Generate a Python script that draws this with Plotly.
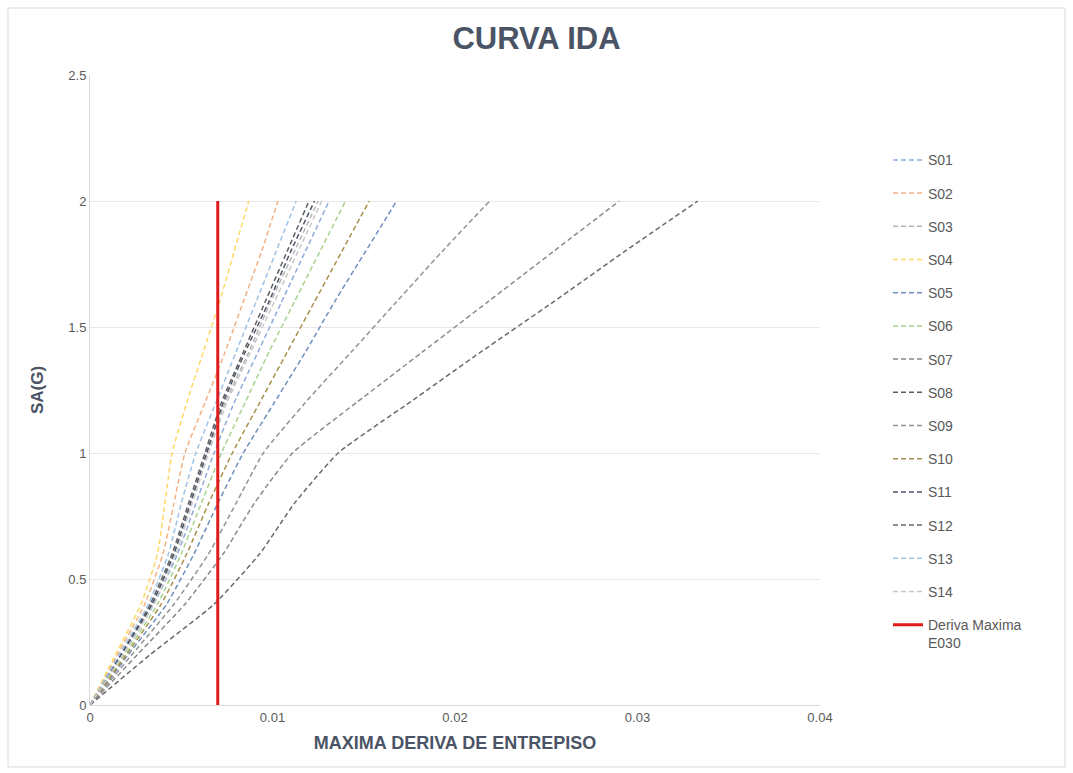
import plotly.graph_objects as go

# Spectral acceleration levels of the incremental dynamic analysis (g)
sa_levels = [0, 0.2, 0.4, 0.6, 0.8, 1.0, 1.2, 1.4, 1.6, 1.8, 2.0]

# Maximum inter-storey drift reached by each record at every SA level
s01 = [0, 0.0018, 0.0035, 0.0048, 0.0058, 0.0068, 0.0079, 0.0092, 0.0105, 0.0118, 0.0131]
s02 = [0, 0.0015, 0.0030, 0.0040, 0.0046, 0.0052, 0.0063, 0.0074, 0.0084, 0.0094, 0.0103]
s03 = [0, 0.0017, 0.0034, 0.0046, 0.0055, 0.0064, 0.0074, 0.0087, 0.0099, 0.0112, 0.0125]
s04 = [0, 0.0014, 0.0028, 0.0037, 0.0041, 0.0045, 0.0053, 0.0062, 0.0071, 0.0079, 0.0087]
s05 = [0, 0.0021, 0.0042, 0.0057, 0.0070, 0.0084, 0.0101, 0.0118, 0.0134, 0.0151, 0.0168]
s06 = [0, 0.0019, 0.0037, 0.0050, 0.0061, 0.0072, 0.0085, 0.0098, 0.0112, 0.0126, 0.0140]
s07 = [0, 0.0026, 0.0052, 0.0073, 0.0090, 0.0111, 0.0146, 0.0182, 0.0218, 0.0254, 0.0290]
s08 = [0, 0.0017, 0.0033, 0.0045, 0.0054, 0.0063, 0.0072, 0.0084, 0.0096, 0.0108, 0.0120]
s09 = [0, 0.0023, 0.0046, 0.0065, 0.0080, 0.0095, 0.0118, 0.0143, 0.0168, 0.0193, 0.0219]
s10 = [0, 0.0020, 0.0039, 0.0053, 0.0065, 0.0078, 0.0093, 0.0108, 0.0123, 0.0138, 0.0153]
s11 = [0, 0.0017, 0.0034, 0.0046, 0.0055, 0.0064, 0.0073, 0.0085, 0.0098, 0.0110, 0.0123]
s12 = [0, 0.0033, 0.0068, 0.0093, 0.0112, 0.0136, 0.0175, 0.0214, 0.0254, 0.0293, 0.0333]
s13 = [0, 0.0016, 0.0032, 0.0043, 0.0050, 0.0058, 0.0069, 0.0080, 0.0091, 0.0102, 0.0113]
s14 = [0, 0.0018, 0.0035, 0.0047, 0.0056, 0.0065, 0.0075, 0.0088, 0.0101, 0.0114, 0.0127]

series_names = ["S01", "S02", "S03", "S04", "S05", "S06", "S07",
                "S08", "S09", "S10", "S11", "S12", "S13", "S14"]
series_values = [s01, s02, s03, s04, s05, s06, s07,
                 s08, s09, s10, s11, s12, s13, s14]
series_colors = ["#8FAADC", "#F4B183", "#B4B4B4", "#FFD966", "#6F8FBF", "#A9D18E", "#8A8A8A",
                 "#5E5E5E", "#939393", "#A89048", "#4A5668", "#6A6A6A", "#9DC3E6", "#C8C8C8"]

# Code drift limit (E.030)
limit_label = "Deriva Maxima<br>E030"
limit_drift = [0.007, 0.007]
limit_sa = [0, 2]

fig = go.Figure()

for name, values, color in zip(series_names, series_values, series_colors):
    fig.add_trace(go.Scatter(
        x=values, y=sa_levels, name=name, mode="lines",
        legendgroup=name,
        line=dict(color=color, width=1.5, dash="5px,3px", shape="spline", smoothing=0.5),
    ))

fig.add_trace(go.Scatter(
    x=limit_drift, y=limit_sa, name=limit_label, mode="lines",
    legendgroup="limit",
    line=dict(color="#E01B1B", width=3),
))

grey_text = "#595959"
fig.update_layout(
    width=1073, height=773,
    margin=dict(l=90, r=253, t=75, b=68),
    paper_bgcolor="white", plot_bgcolor="white",
    font=dict(family="Liberation Sans, Arial, sans-serif", color=grey_text, size=13),
    title=dict(
        text="<b>CURVA IDA</b>", x=0.5, xref="container", xanchor="center",
        y=0.951, yref="container", yanchor="middle",
        font=dict(size=31, color="#4A5465"),
    ),
    xaxis=dict(
        range=[0, 0.04], dtick=0.01, tick0=0,
        showgrid=False, zeroline=False,
        showline=True, linecolor="#D9D9D9", linewidth=1,
        ticks="", tickfont=dict(size=13, color=grey_text),
        title=dict(text="<b>MAXIMA DERIVA DE ENTREPISO</b>", standoff=12,
                   font=dict(size=18, color="#4A5465")),
    ),
    yaxis=dict(
        range=[0, 2.5], dtick=0.5, tick0=0,
        showgrid=True, gridcolor="#E8E8E8", gridwidth=1,
        zeroline=False,
        showline=True, linecolor="#D9D9D9", linewidth=1,
        ticks="", ticklen=0, tickfont=dict(size=13, color=grey_text),
        title=dict(text="<b>SA(G)</b>", standoff=20,
                   font=dict(size=17, color="#4A5465")),
    ),
    legend=dict(
        x=(893 - 95) / 730, xanchor="left", y=0.89, yanchor="top",
        font=dict(size=14, color=grey_text),
        tracegroupgap=12, valign="top",
        bgcolor="rgba(0,0,0,0)",
    ),
    showlegend=True,
    shapes=[dict(
        type="rect", xref="paper", yref="paper",
        x0=(8 - 90) / 730, x1=(1065 - 90) / 730,
        y0=(705 - 767) / 630, y1=(705 - 8) / 630,
        line=dict(color="#D9D9D9", width=1), fillcolor="rgba(0,0,0,0)", layer="below",
    )],
)

fig.write_html("out.html")
